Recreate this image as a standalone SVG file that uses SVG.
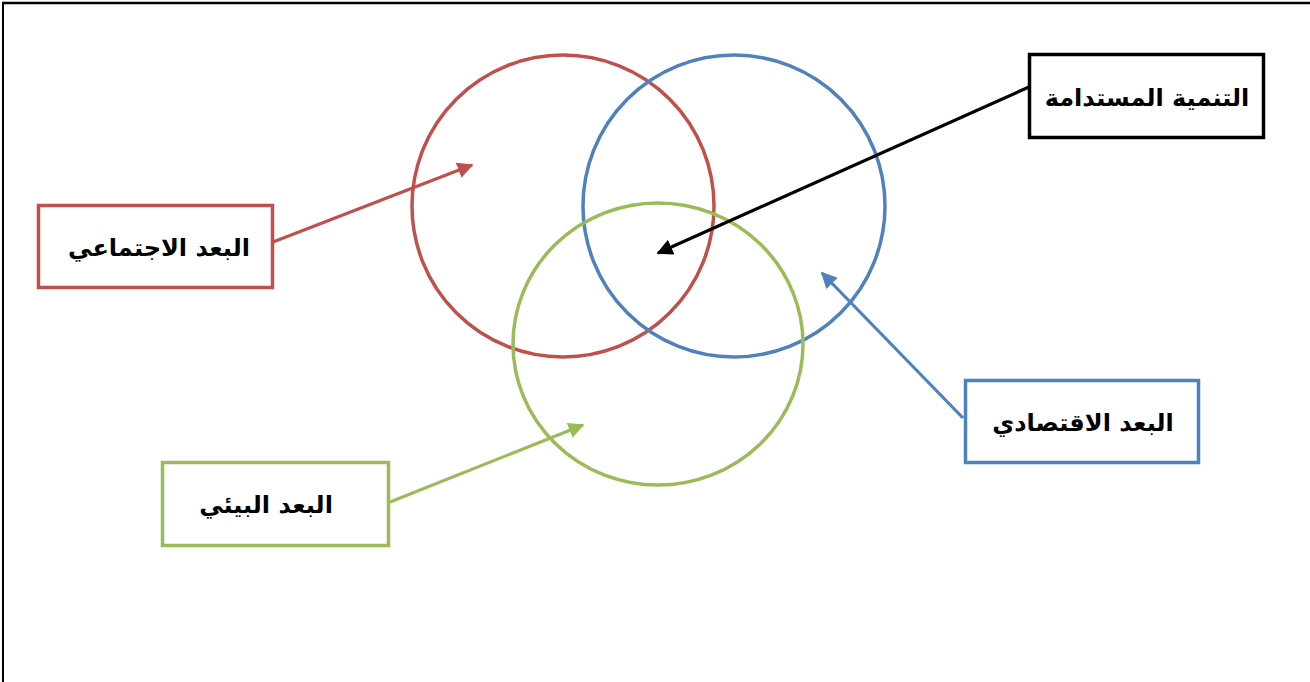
<svg xmlns="http://www.w3.org/2000/svg" width="1310" height="682" viewBox="0 0 1310 682">
<style>
.t{font-family:"DejaVu Sans","Noto Sans",sans-serif;font-weight:bold;font-size:24px;fill:#000;text-anchor:middle;direction:rtl}
.box{fill:#fff;stroke-width:3.5}
.c{fill:none;stroke-width:3.5}
</style>
<defs>
<marker id="mr" viewBox="0 0 10 10" refX="9" refY="5" markerWidth="5" markerHeight="5" orient="auto"><path d="M0,0 L10,5 L0,10 z" fill="#C0504D"/></marker>
<marker id="mb" viewBox="0 0 10 10" refX="9" refY="5" markerWidth="5" markerHeight="5" orient="auto"><path d="M0,0 L10,5 L0,10 z" fill="#4F81BD"/></marker>
<marker id="mg" viewBox="0 0 10 10" refX="9" refY="5" markerWidth="5" markerHeight="5" orient="auto"><path d="M0,0 L10,5 L0,10 z" fill="#9BBB59"/></marker>
<marker id="mk" viewBox="0 0 10 10" refX="9" refY="5" markerWidth="5" markerHeight="5" orient="auto"><path d="M0,0 L10,5 L0,10 z" fill="#000"/></marker>
</defs>
<rect width="1310" height="682" fill="#fff"/>
<g id="frame" stroke="#000" fill="none">
<line x1="2" y1="3" x2="1310" y2="3" stroke-width="2.5"/>
<line x1="3" y1="2" x2="3" y2="682" stroke-width="2"/>
</g>
<g id="circles">
<circle id="social-circle" class="c" cx="563" cy="206" r="151" stroke="#C0504D"/>
<circle id="economic-circle" class="c" cx="734" cy="206" r="151" stroke="#4F81BD"/>
<ellipse id="environment-circle" class="c" cx="658" cy="344" rx="145" ry="141" stroke="#9BBB59"/>
</g>
<g id="connectors" stroke-width="3.2" fill="none">
<line x1="273" y1="242" x2="472" y2="165" stroke="#C0504D" marker-end="url(#mr)"/>
<line x1="1029" y1="87" x2="658" y2="253" stroke="#000" marker-end="url(#mk)"/>
<line x1="963" y1="418" x2="822" y2="273" stroke="#4F81BD" marker-end="url(#mb)"/>
<line x1="390" y1="502" x2="583" y2="425" stroke="#9BBB59" marker-end="url(#mg)"/>
</g>
<g id="sustainable">
<rect class="box" x="1029.5" y="54.5" width="234" height="83" stroke="#000"/>
<text class="t" x="1147" y="106">التنمية المستدامة</text>
</g>
<g id="social">
<rect class="box" x="38.5" y="205.5" width="234" height="82" stroke="#C0504D"/>
<text class="t" x="159" y="256">البعد الاجتماعي</text>
</g>
<g id="economic">
<rect class="box" x="965.5" y="380.5" width="233" height="82" stroke="#4F81BD"/>
<text class="t" x="1083" y="431">البعد الاقتصادي</text>
</g>
<g id="environment">
<rect class="box" x="162.5" y="462.5" width="226" height="83" stroke="#9BBB59"/>
<text class="t" x="266" y="513">البعد البيئي</text>
</g>
</svg>
